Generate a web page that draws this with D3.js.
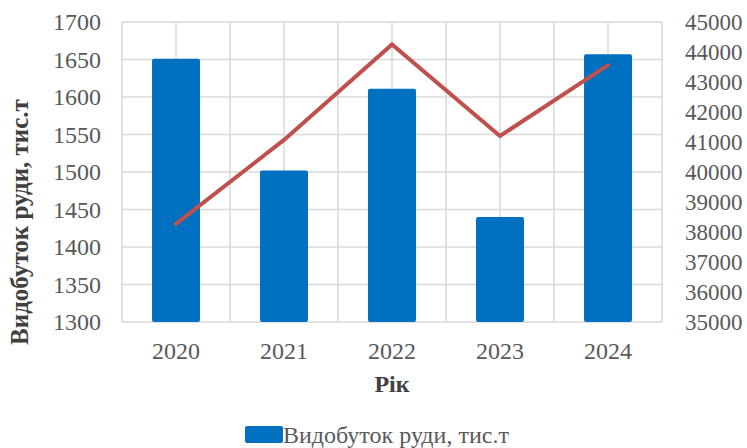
<!DOCTYPE html>
<html><head><meta charset="utf-8">
<script src="https://cdn.jsdelivr.net/npm/d3@7"></script>
<style>body{margin:0;background:#fff}svg{display:block}</style>
</head><body>
<svg id="c" width="747" height="448"></svg>
<script>
const years = ["2020","2021","2022","2023","2024"];
const oreOutput = [1651, 1502, 1611, 1440, 1657];
const lineValues = [38270, 41070, 44250, 41200, 43560];
const leftTicks = [1300,1350,1400,1450,1500,1550,1600,1650,1700];
const rightTicks = [35000,36000,37000,38000,39000,40000,41000,42000,43000,44000,45000];
const yTitle = "Видобуток руди, тис.т";
const xTitle = "Рік";
const legendLabel = "Видобуток руди, тис.т";

const svg = d3.select("#c");
const m = {l:122, r:662, t:22, b:322};
const font = "'Liberation Serif','Times New Roman',serif";
const x = d3.scaleBand().domain(years).range([m.l, m.r]).paddingInner(0.556).paddingOuter(0.278);
const yL = d3.scaleLinear().domain([1300,1700]).range([m.b, m.t]);
const yR = d3.scaleLinear().domain([35000,45000]).range([m.b, m.t]);
const step = x.step();

// grid
const g = svg.append("g");
leftTicks.forEach(t => g.append("line").attr("x1", m.l).attr("x2", m.r).attr("y1", yL(t)).attr("y2", yL(t)).attr("stroke","#d9d9d9").attr("stroke-width",1.5));
const vx = [];
for (let i = 0; i <= years.length*2; i++) vx.push(m.l + i*step/2);
vx.forEach(v => g.append("line").attr("x1", v).attr("x2", v).attr("y1", m.t).attr("y2", m.b).attr("stroke","#d9d9d9").attr("stroke-width",1.5));

// bars
svg.append("g").selectAll("rect").data(years).join("rect")
  .attr("x", d => x(d)).attr("width", x.bandwidth())
  .attr("y", (d,i) => yL(oreOutput[i])).attr("height", (d,i) => yL(1300) - yL(oreOutput[i]))
  .attr("rx", 2).attr("fill", "#0070C0");

// line
const line = d3.line().x((d,i) => x(years[i]) + x.bandwidth()/2).y(d => yR(d));
svg.append("path").datum(lineValues).attr("d", line).attr("fill","none")
  .attr("stroke","#C0504D").attr("stroke-width",4).attr("stroke-linecap","round").attr("stroke-linejoin","miter");

// axes
const axL = svg.append("g").attr("transform", `translate(${m.l},0)`).call(d3.axisLeft(yL).tickValues(leftTicks).tickSize(0).tickPadding(21).tickFormat(d3.format("d")));
const axR = svg.append("g").attr("transform", `translate(${m.r},0)`).call(d3.axisRight(yR).tickValues(rightTicks).tickSize(0).tickPadding(23).tickFormat(d3.format("d")));
const axB = svg.append("g").attr("transform", `translate(0,${m.b})`).call(d3.axisBottom(x).tickSize(0).tickPadding(20));
[axL, axR, axB].forEach(a => {
  a.attr("font-family", font).attr("font-size", 24);
  a.select(".domain").remove();
  a.selectAll("text").attr("font-family", font).attr("font-size", 24).attr("fill", "#595959");
});
axR.selectAll("text").attr("font-size", 23);

// titles
svg.append("text").attr("transform", `translate(28,222) rotate(-90)`)
  .attr("text-anchor","middle").attr("font-family",font).attr("font-size",25).attr("font-weight","bold").attr("fill","#404040").text(yTitle);
svg.append("text").attr("x", (m.l+m.r)/2).attr("y", 392).attr("text-anchor","middle")
  .attr("font-family",font).attr("font-size",24).attr("font-weight","bold").attr("fill","#404040").text(xTitle);

// legend
svg.append("rect").attr("x",245).attr("y",426).attr("width",38).attr("height",17).attr("rx",2).attr("fill","#0070C0");
svg.append("text").attr("x",283).attr("y",443).attr("font-family",font).attr("font-size",24).attr("fill","#595959").text(legendLabel);
</script>
</body></html>
